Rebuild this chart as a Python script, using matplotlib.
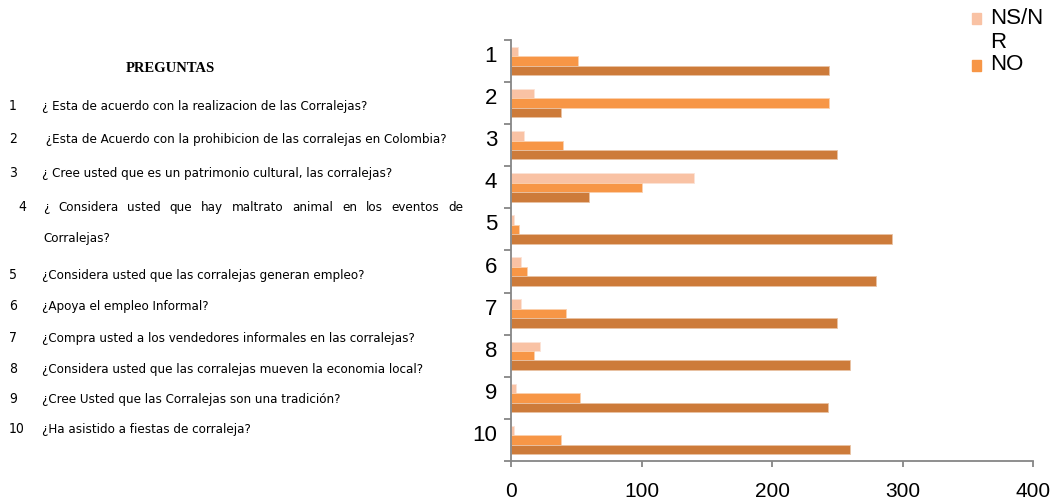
import numpy as np
import matplotlib.pyplot as plt
import matplotlib.transforms as mtransforms
from matplotlib import font_manager
from matplotlib.patches import Rectangle

# --- Datos ---
categorias = ['1', '2', '3', '4', '5', '6', '7', '8', '9', '10']
ns_nr = [5, 18, 10, 140, 2, 8, 8, 22, 4, 2]
no = [51, 244, 40, 100, 6, 12, 42, 18, 53, 38]
si = [244, 38, 250, 60, 292, 280, 250, 260, 243, 260]
ticks_x = [0, 100, 200, 300, 400]

preguntas = [
    '¿ Esta de acuerdo con la realizacion de las Corralejas?',
    ' ¿Esta de Acuerdo con la prohibicion de las corralejas en Colombia?',
    '¿ Cree usted que es un patrimonio cultural, las corralejas?',
    '¿ Considera usted que hay maltrato animal en los eventos de',
    '¿Considera usted que las corralejas generan empleo?',
    '¿Apoya el empleo Informal?',
    '¿Compra usted a los vendedores informales en las corralejas?',
    '¿Considera usted que las corralejas mueven la economia local?',
    '¿Cree Usted que las Corralejas son una tradición?',
    '¿Ha asistido a fiestas de corraleja?',
]
continuacion_4 = 'Corralejas?'

col_nsnr = '#F9C2A4'
col_no = '#F79646'
col_si = '#CD7B3A'
gris = '#868686'

W, H = 1054, 501


def fx(px):
    return px / W


def fy(py):
    return 1 - py / H


nombres = {f.name for f in font_manager.fontManager.ttflist}
fuente_narrow = 'Liberation Sans Narrow' if 'Liberation Sans Narrow' in nombres else 'DejaVu Sans'
plt.rcParams['font.family'] = ['Liberation Sans', 'DejaVu Sans']

fig = plt.figure(figsize=(W / 100, H / 100), dpi=100)
ax = fig.add_axes([fx(511), fy(461), fx(1033) - fx(511), fy(40) - fy(461)])

y = np.arange(len(categorias))
alto = 0.225
ax.barh(y - alto, ns_nr, height=alto, color=col_nsnr, edgecolor='#FCE3D6', linewidth=0.6)
ax.barh(y, no, height=alto, color=col_no, edgecolor='#FBD0AE', linewidth=0.6)
ax.barh(y + alto, si, height=alto, color=col_si, edgecolor='#E9C3A4', linewidth=0.6)

ax.set_xlim(0, 400)
ax.set_ylim(len(categorias) - 0.5, -0.5)
ax.set_xticks(ticks_x)
ax.set_yticks(y)
ax.set_yticklabels(categorias)
ax.set_yticks(np.arange(len(categorias) + 1) - 0.5, minor=True)

for s in ['top', 'right']:
    ax.spines[s].set_visible(False)
for s in ['left', 'bottom']:
    ax.spines[s].set_color(gris)
    ax.spines[s].set_linewidth(1.3)

ax.tick_params(axis='y', which='major', length=0, pad=10, labelsize=16)
ax.tick_params(axis='y', which='minor', length=5, width=1.3, color=gris)
ax.tick_params(axis='x', length=4, width=1.3, color=gris, pad=11, labelsize=15)

desplaza = mtransforms.ScaledTranslation(0, 0.07, fig.dpi_scale_trans)
for lab in ax.get_yticklabels():
    lab.set_transform(lab.get_transform() + desplaza)

# --- Leyenda (solo se ven dos entradas) ---
fig.patches.append(Rectangle((fx(972), fy(24)), fx(9), fy(0) - fy(11),
                             transform=fig.transFigure, color=col_nsnr))
fig.patches.append(Rectangle((fx(972), fy(71)), fx(9), fy(0) - fy(11),
                             transform=fig.transFigure, color=col_no))
fig.text(fx(990), fy(18), 'NS/N', fontsize=16, va='center', ha='left')
fig.text(fx(990), fy(43), 'R', fontsize=16, va='center', ha='left')
fig.text(fx(990), fy(65), 'NO', fontsize=16, va='center', ha='left')

# --- Lista de preguntas ---
fig.text(fx(170), fy(68), 'PREGUNTAS', fontsize=10.5, fontweight='bold',
         family='Liberation Serif', ha='center', va='center')

ys = [105, 138, 172, 206, 274, 305, 337, 368, 398, 428]
estilo = dict(fontsize=9.5, family=fuente_narrow, fontstretch='condensed', va='baseline')
estilo_num = dict(estilo, fontsize=10)
base = 5  # del centro de la letra a la linea base, en pixeles
renderer = fig.canvas.get_renderer()
for i, (texto, yy) in enumerate(zip(preguntas, ys)):
    yb = fy(yy + base)
    xnum = 18 if i == 3 else 9
    fig.text(fx(xnum), yb, categorias[i], ha='left', **estilo_num)
    if i == 3:
        # linea justificada
        palabras = texto.split()
        objs = [fig.text(0, yb, p, ha='left', **estilo) for p in palabras]
        anchos = [o.get_window_extent(renderer).width for o in objs]
        x0, x1 = 43, 463
        hueco = (x1 - x0 - sum(anchos)) / (len(palabras) - 1)
        xx = x0
        for o, a in zip(objs, anchos):
            o.set_x(fx(xx))
            xx += a + hueco
        fig.text(fx(43), fy(237 + base), continuacion_4, ha='left', **estilo)
    else:
        fig.text(fx(42), yb, texto, ha='left', **estilo)

fig.savefig('out.png', dpi=100)
